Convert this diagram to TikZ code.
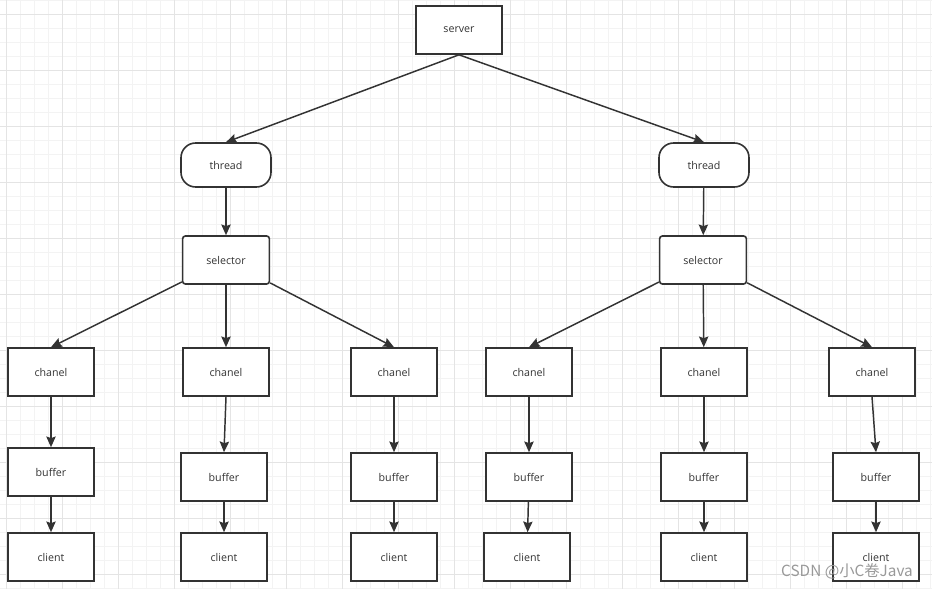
\documentclass[tikz,border=0pt]{standalone}
\usepackage{xcolor}
\usepackage{fontspec}
\setsansfont{Open Sans}
\newfontfamily\cjkfont{Noto Sans CJK SC}
\usepackage{tikz}
\usetikzlibrary{arrows.meta,positioning}

\definecolor{inkgray}{HTML}{333333}
\definecolor{gridminor}{HTML}{F3F3F3}
\definecolor{gridmajor}{HTML}{E4E4E4}

\begin{document}
\begin{tikzpicture}[
    x=0.75pt, y=-0.75pt,
    box/.style={rectangle, draw=inkgray, line width=1.2pt, fill=white, minimum width=64.5pt, minimum height=36pt, inner sep=0pt, font=\sffamily\fontsize{8}{10}\selectfont, text=inkgray},
    worker/.style={box, rounded corners=11pt, minimum width=67.5pt, minimum height=33pt},
    picker/.style={box, rounded corners=2pt, minimum width=65pt},
    link/.style={draw=inkgray, line width=1.1pt, -{Stealth[length=8pt, width=7pt, inset=1.2pt]}},
    minor/.style={draw=gridminor, line width=0.6pt},
    major/.style={draw=gridmajor, line width=0.6pt}
]
    % Background grid
    \useasboundingbox (0,0) rectangle (932,589);
    \fill[white] (0,0) rectangle (932,589);
    \foreach \gx in {6,20,...,930} \draw[minor] (\gx,0) -- (\gx,589);
    \foreach \gy in {0,14,...,588} \draw[minor] (0,\gy) -- (932,\gy);
    \foreach \gx in {6,62,...,930} \draw[major] (\gx,0) -- (\gx,589);
    \foreach \gy in {14,70,...,588} \draw[major] (0,\gy) -- (932,\gy);

    % Server and threads
    \node[box] (srv) at (459,30) {server};
    \node[worker] (th1) at (226,165) {thread};
    \node[worker] (th2) at (704,165) {thread};

    % Selectors
    \node[picker] (sel1) at (226,260) {selector};
    \node[picker] (sel2) at (703,260) {selector};

    % Channels
    \node[box] (ch1) at (51,372) {chanel};
    \node[box] (ch2) at (226,372) {chanel};
    \node[box] (ch3) at (394,372) {chanel};
    \node[box] (ch4) at (529,372) {chanel};
    \node[box] (ch5) at (704,372) {chanel};
    \node[box] (ch6) at (872,372) {chanel};

    % Buffers
    \node[box] (buf1) at (51,472) {buffer};
    \node[box] (buf2) at (224,477) {buffer};
    \node[box] (buf3) at (394,477) {buffer};
    \node[box] (buf4) at (529,477) {buffer};
    \node[box] (buf5) at (704,477) {buffer};
    \node[box] (buf6) at (876,477) {buffer};

    % Clients
    \node[box] (cl1) at (51,557) {client};
    \node[box] (cl2) at (224,557) {client};
    \node[box] (cl3) at (394,557) {client};
    \node[box] (cl4) at (527,557) {client};
    \node[box] (cl5) at (704,557) {client};
    \node[box] (cl6) at (876,557) {client};

    % Connections
    \draw[link] (srv.south) -- (th1.north);
    \draw[link] (srv.south) -- (th2.north);
    \draw[link] (th1) -- (sel1);
    \draw[link] (th2) -- (sel2);

    \draw[link] (sel1) -- (ch1.north);
    \draw[link] (sel1) -- (ch2);
    \draw[link] (sel1) -- (ch3.north);
    \draw[link] (sel2) -- (ch4.north);
    \draw[link] (sel2) -- (ch5);
    \draw[link] (sel2) -- (ch6.north);

    \draw[link] (ch1) -- (buf1);
    \draw[link] (ch2.south) -- (buf2.north);
    \draw[link] (ch3) -- (buf3);
    \draw[link] (ch4) -- (buf4);
    \draw[link] (ch5) -- (buf5);
    \draw[link] (ch6.south) -- (buf6.north);

    \draw[link] (buf1) -- (cl1);
    \draw[link] (buf2) -- (cl2);
    \draw[link] (buf3) -- (cl3);
    \draw[link] (buf4) -- (cl4);
    \draw[link] (buf5) -- (cl5);
    \draw[link] (buf6) -- (cl6);

    % Watermark
    \node[text=black!40, font=\cjkfont\fontsize{11.5}{13}\selectfont, inner sep=0pt] (mark) at (847,571) {CSDN @小C卷Java};
\end{tikzpicture}
\end{document}
